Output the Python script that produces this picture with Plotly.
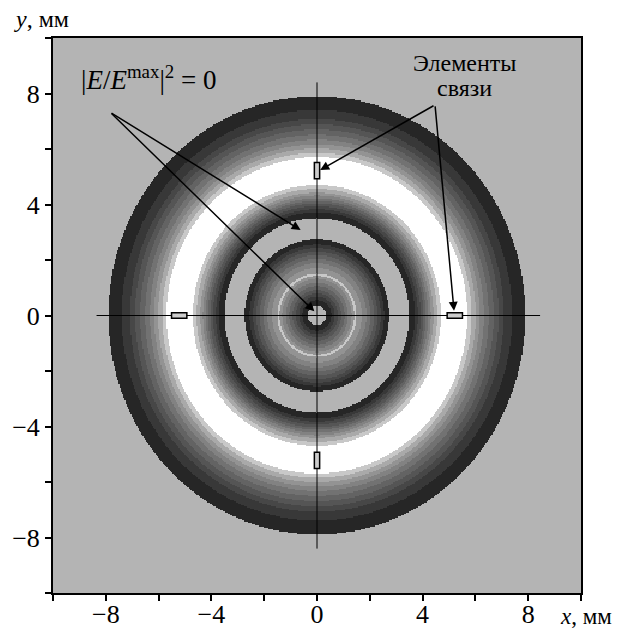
import numpy as np
import plotly.graph_objects as go

# ---------------- data ----------------
# concentric contour bands: outer radius of each band (mm) and its level
# level -1 = background (metal / outside), 0 = |E|^2 ~ 0 (black) ... 10 = max (white)
band_outer_radius_mm = [
    0.35,                                   # central hole
    0.55, 0.68, 0.80, 0.92, 1.05, 1.18, 1.32, 1.42, 1.50,
    1.70, 1.88, 2.03, 2.17, 2.30, 2.42, 2.55, 2.74,
    3.50,                                   # gap between regions
    3.72, 3.83, 3.94, 4.04, 4.13, 4.22, 4.32, 4.42, 4.56, 4.70,
    5.70, 5.86, 6.02, 6.17, 6.33, 6.51, 6.70, 6.89, 7.08, 7.40, 7.90,
]
band_level = [
    -1,
    0, 1, 2, 3, 4, 5, 6, 7, 9,
    7, 6, 5, 4, 3, 2, 1, 0,
    -1,
    0, 1, 2, 3, 4, 5, 6, 7, 8, 9,
    10, 9, 8, 7, 6, 5, 4, 3, 2, 1, 0,
]
outside_level = -1

# coupling elements: centre radius (mm) and angle (deg)
coupling_radius_mm = [5.22, 5.22, 5.22, 5.22]
coupling_angle_deg = [90, 180, 270, 0]

x_tick_vals = [-8, -4, 0, 4, 8]
x_tick_text = ["−8", "−4", "0", "4", "8"]
y_tick_vals = x_tick_vals
y_tick_text = x_tick_text
minor_tick_vals = [-10, -6, -2, 2, 6, 10]

# ---------------- styling ----------------
level_colors = [
    "#b4b4b4",  # -1 background
    "#262626",  # 0
    "#383838",  # 1
    "#474747",  # 2
    "#555555",  # 3
    "#636363",  # 4
    "#727272",  # 5
    "#828282",  # 6
    "#939393",  # 7
    "#a9a9a9",  # 8
    "#c8c8c8",  # 9
    "#ffffff",  # 10
]
FONT = "Liberation Serif"

# ---------------- build the grid ----------------
grid = np.linspace(-10, 10, 441)
X, Y = np.meshgrid(grid, grid)
R = np.hypot(X, Y)
levels_arr = np.array(band_level + [outside_level])
idx = np.searchsorted(np.array(band_outer_radius_mm), R, side="left")
Z = levels_arr[idx] + 1  # 0..11 index into level_colors

n = len(level_colors)
colorscale = []
for i, c in enumerate(level_colors):
    colorscale.append([i / n, c])
    colorscale.append([(i + 1) / n, c])

fig = go.Figure()
fig.add_trace(go.Heatmap(
    x=grid, y=grid, z=Z, colorscale=colorscale, zmin=-0.5, zmax=n - 0.5,
    showscale=False, hoverinfo="skip", zsmooth=False,
))

shapes = []
# cross lines
shapes.append(dict(type="line", x0=-8.35, x1=8.45, y0=0, y1=0,
                   line=dict(color="black", width=1)))
shapes.append(dict(type="line", x0=0, x1=0, y0=-8.4, y1=8.4,
                   line=dict(color="black", width=1)))
# coupling elements
half_len, half_w = 0.29, 0.1
for rc, ang in zip(coupling_radius_mm, coupling_angle_deg):
    cx = rc * np.cos(np.radians(ang))
    cy = rc * np.sin(np.radians(ang))
    if ang % 180 == 90:
        x0, x1, y0, y1 = cx - half_w, cx + half_w, cy - half_len, cy + half_len
    else:
        x0, x1, y0, y1 = cx - half_len, cx + half_len, cy - half_w, cy + half_w
    shapes.append(dict(type="rect", x0=x0, x1=x1, y0=y0, y1=y1,
                       fillcolor="#cccccc", line=dict(color="black", width=1.5)))

annotations = []
arrow_style = dict(showarrow=True, arrowhead=2, arrowsize=1.2, arrowwidth=1.5,
                   arrowcolor="black", axref="x", ayref="y", text="",
                   xref="x", yref="y", standoff=0)
# |E/Emax|^2 = 0 arrows
annotations.append(dict(x=-0.62, y=3.08, ax=-7.84, ay=7.33, **arrow_style))
annotations.append(dict(x=-0.1, y=0.15, ax=-7.84, ay=7.33, **arrow_style))
# coupling element arrows
annotations.append(dict(x=0.12, y=5.24, ax=4.47, ay=7.59, **arrow_style))
annotations.append(dict(x=5.19, y=0.17, ax=4.47, ay=7.59, **arrow_style))

annotations.append(dict(
    x=-9.0, y=8.55, xref="x", yref="y", xanchor="left", yanchor="middle",
    text="|<i>E</i>/<i>E</i><sup>max</sup>|<sup>2</sup> = 0", showarrow=False,
    font=dict(family=FONT, size=27, color="black")))
annotations.append(dict(
    x=5.6, y=9.1, xref="x", yref="y", xanchor="center", yanchor="middle",
    text="Элементы", showarrow=False, font=dict(family=FONT, size=24, color="black")))
annotations.append(dict(
    x=5.6, y=8.2, xref="x", yref="y", xanchor="center", yanchor="middle",
    text="связи", showarrow=False, font=dict(family=FONT, size=24, color="black")))

# axis titles
annotations.append(dict(
    x=-0.078, y=1.034, xref="paper", yref="paper", xanchor="left", yanchor="middle",
    text="<i>y</i>, мм", showarrow=False, font=dict(family=FONT, size=24, color="black")))
annotations.append(dict(
    x=0.956, y=-0.042, xref="paper", yref="paper", xanchor="left", yanchor="middle",
    text="<i>x</i>, мм", showarrow=False, font=dict(family=FONT, size=23, color="black")))

axis_common = dict(
    range=[-10, 10], showgrid=False, zeroline=False, automargin=False,
    showline=True, linewidth=2, linecolor="black", mirror=True,
    ticks="outside", ticklen=6, tickwidth=1.5, tickcolor="black",
    tickfont=dict(family=FONT, size=26, color="black"),
    minor=dict(tickvals=minor_tick_vals, ticks="outside", ticklen=6,
               tickwidth=1.5, tickcolor="black", showgrid=False),
)
fig.update_xaxes(tickvals=x_tick_vals, ticktext=x_tick_text,
                 ticklabelstandoff=-9, **axis_common)
fig.update_yaxes(tickvals=y_tick_vals, ticktext=y_tick_text, **axis_common)

fig.update_layout(
    width=621, height=631,
    margin=dict(l=53, r=40, t=38, b=38, autoexpand=False),
    paper_bgcolor="white", plot_bgcolor=level_colors[0],
    shapes=shapes, annotations=annotations, showlegend=False,
)

fig.write_html("out.html", config={"displayModeBar": False},
               post_script="document.body.style.margin='0px';")
